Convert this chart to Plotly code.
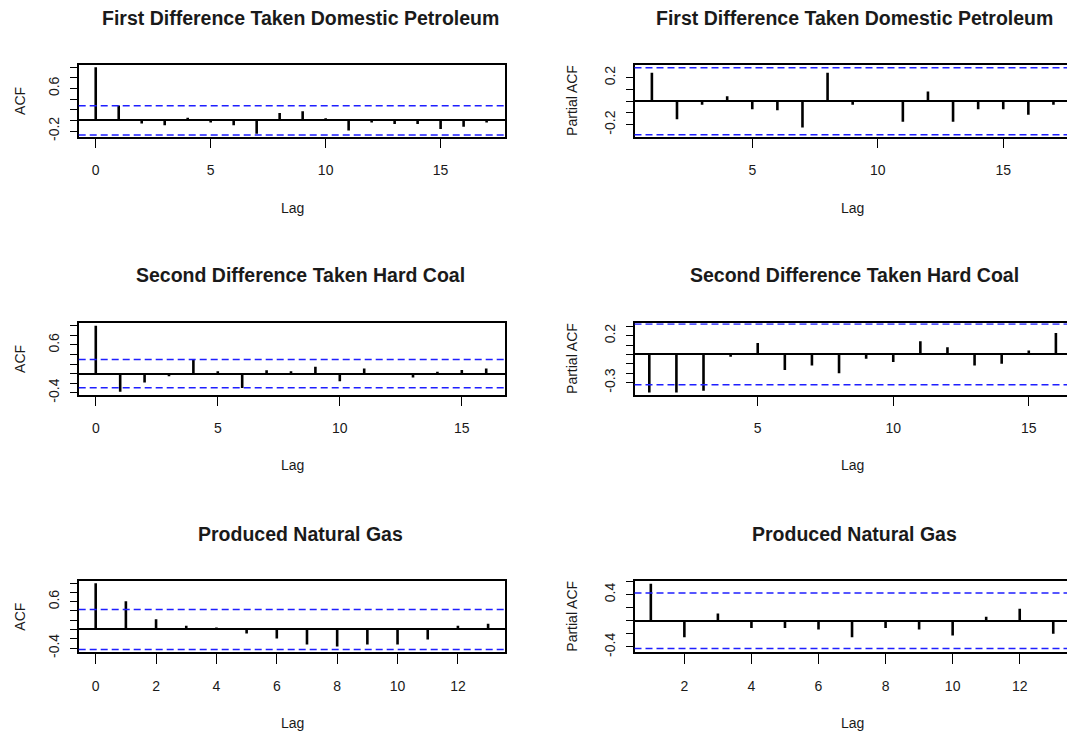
import plotly.graph_objects as go

# ---------------- data ----------------
pet_acf_lags = list(range(0, 18))
pet_acf = [1.0, 0.28, -0.06, -0.09, 0.05, -0.04, -0.09, -0.25, 0.14, 0.17,
           0.04, -0.19, -0.04, -0.07, -0.07, -0.16, -0.12, -0.04]
pet_pacf_lags = list(range(1, 18))
pet_pacf = [0.242, -0.154, -0.03, 0.043, -0.068, -0.078, -0.224, 0.242, -0.03,
            0.004, -0.176, 0.083, -0.176, -0.068, -0.068, -0.116, -0.03]

coal_acf_lags = list(range(0, 17))
coal_acf = [1.0, -0.38, -0.186, -0.055, 0.30, 0.048, -0.30, 0.07, 0.048, 0.145,
            -0.16, 0.11, 0.004, -0.083, 0.04, 0.076, 0.11]
coal_pacf_lags = list(range(1, 17))
coal_pacf = [-0.404, -0.404, -0.386, -0.025, 0.123, -0.165, -0.116, -0.2, -0.046,
             -0.081, 0.14, 0.077, -0.116, -0.098, 0.042, 0.228]

gas_acf_lags = list(range(0, 14))
gas_acf = [1.0, 0.61, 0.222, 0.079, 0.043, -0.086, -0.194, -0.323, -0.366,
           -0.323, -0.323, -0.215, 0.079, 0.122]
gas_pacf_lags = list(range(1, 14))
gas_pacf = [0.565, -0.25, 0.11, -0.11, -0.11, -0.135, -0.25, -0.11, -0.135,
            -0.225, 0.06, 0.185, -0.2]

# confidence bounds (blue dashed lines)
clims = [0.275, 0.285, 0.297, 0.323, 0.43, 0.425]

titles = ["First Difference Taken Domestic Petroleum",
          "First Difference Taken Domestic Petroleum",
          "Second Difference Taken Hard Coal",
          "Second Difference Taken Hard Coal",
          "Produced Natural Gas",
          "Produced Natural Gas"]
ylabels = ["ACF", "Partial ACF"] * 3

y_ticks = [
    [-0.2, 0.0, 0.2, 0.4, 0.6, 0.8, 1.0],
    [-0.2, -0.1, 0.0, 0.1, 0.2],
    [-0.4, -0.2, 0.0, 0.2, 0.4, 0.6, 0.8, 1.0],
    [-0.3, -0.2, -0.1, 0.0, 0.1, 0.2, 0.3],
    [-0.4, -0.2, 0.0, 0.2, 0.4, 0.6, 0.8, 1.0],
    [-0.4, -0.2, 0.0, 0.2, 0.4, 0.6],
]
y_labels_shown = [
    ["-0.2", "0.6"],
    ["-0.2", "0.2"],
    ["-0.4", "0.6"],
    ["-0.3", "0.2"],
    ["-0.4", "0.6"],
    ["-0.4", "0.4"],
]
x_ticks = [
    [0, 5, 10, 15], [5, 10, 15],
    [0, 5, 10, 15], [5, 10, 15],
    [0, 2, 4, 6, 8, 10, 12], [2, 4, 6, 8, 10, 12],
]

series = [(pet_acf_lags, pet_acf), (pet_pacf_lags, pet_pacf),
          (coal_acf_lags, coal_acf), (coal_pacf_lags, coal_pacf),
          (gas_acf_lags, gas_acf), (gas_pacf_lags, gas_pacf)]

# ---------------- layout geometry (pixels) ----------------
W, H = 1067, 743
x_ranges = [[-0.74, 17.8], [0.307, 17.54],
            [-0.70, 16.77], [0.454, 16.41],
            [-0.563, 13.56], [0.513, 13.41]]
y_ranges = [[-0.303, 1.036], [-0.301, 0.306],
            [-0.441, 1.056], [-0.428, 0.333],
            [-0.49, 1.043], [-0.48, 0.605]]
col_px = [(78.7, 505.0), (634.5, 1067.0)]
row_px = [(66.0, 138.0), (326.7, 399.0), (587.5, 659.3)]
title_y = [18, 278, 540]
lag_y = [210, 470, 731]
col_center = [292, 852]
title_center = [300, 854]
ylab_x = [20, 572]

FONT = "Liberation Sans, Arial, sans-serif"

fig = go.Figure()
layout = {}
shapes = []
annotations = []

for i in range(6):
    r, c = divmod(i, 2)
    n = i + 1
    xa = "x" if n == 1 else f"x{n}"
    ya = "y" if n == 1 else f"y{n}"
    lags, vals = series[i]
    xs, ys = [], []
    for l, v in zip(lags, vals):
        xs += [l, l, None]
        ys += [0, v, None]
    fig.add_trace(go.Scatter(x=xs, y=ys, mode="lines",
                             line=dict(color="black", width=2.6),
                             xaxis=xa, yaxis=ya, hoverinfo="skip",
                             showlegend=False))
    x0, x1 = col_px[c]
    y0, y1 = row_px[r]
    layout[f"xaxis{n if n > 1 else ''}"] = dict(
        domain=[x0 / W, x1 / W], anchor=ya, range=x_ranges[i],
        tickvals=x_ticks[i], ticktext=[str(t) for t in x_ticks[i]],
        ticks="outside", ticklen=10, tickwidth=1.3, tickcolor="black",
        ticklabelstandoff=10,
        showline=True, mirror=True, linecolor="black", linewidth=1.5,
        showgrid=False, zeroline=False,
        tickfont=dict(family=FONT, size=14, color="#1a1a1a"),
        fixedrange=True)
    tt = [(f"{t:.1f}" if f"{t:.1f}" in y_labels_shown[i] else "") for t in y_ticks[i]]
    layout[f"yaxis{n if n > 1 else ''}"] = dict(
        domain=[1 - y1 / H, 1 - y0 / H], anchor=xa, range=y_ranges[i],
        tickvals=y_ticks[i], ticktext=tt, tickangle=-90,
        ticks="outside", ticklen=7, tickwidth=1.3, tickcolor="black",
        ticklabelstandoff=5,
        showline=True, mirror=(c == 0), linecolor="black", linewidth=1.5,
        showgrid=False, zeroline=True, zerolinecolor="black", zerolinewidth=1.5,
        tickfont=dict(family=FONT, size=14, color="#1a1a1a"),
        fixedrange=True)
    for s in (1, -1):
        shapes.append(dict(type="line", xref=f"{xa} domain", yref=ya,
                           x0=0, x1=1, y0=s * clims[i], y1=s * clims[i],
                           line=dict(color="#1f1fff", width=1.5, dash="7px,4px")))
    annotations.append(dict(text=f"<b>{titles[i]}</b>", xref="paper", yref="paper",
                            x=title_center[c] / W, y=1 - title_y[r] / H,
                            xanchor="center", yanchor="middle", showarrow=False,
                            font=dict(family=FONT, size=19.5, color="#1a1a1a")))
    annotations.append(dict(text="Lag", xref="paper", yref="paper",
                            x=col_center[c] / W, y=1 - lag_y[r] / H,
                            xanchor="center", yanchor="middle", showarrow=False,
                            font=dict(family=FONT, size=14, color="#1a1a1a")))
    annotations.append(dict(text=ylabels[i], xref="paper", yref="paper",
                            x=ylab_x[c] / W, y=1 - (y0 + y1) / 2 / H,
                            xanchor="center", yanchor="middle", showarrow=False,
                            textangle=-90,
                            font=dict(family=FONT, size=14, color="#1a1a1a")))

fig.update_layout(**layout)
fig.update_layout(width=W, height=H, margin=dict(l=0, r=0, t=0, b=0),
                  paper_bgcolor="white", plot_bgcolor="white",
                  shapes=shapes, annotations=annotations, showlegend=False)

fig.write_html("out.html", config={"displayModeBar": False},
               post_script="document.body.style.margin='0';document.body.style.overflow='hidden';")
